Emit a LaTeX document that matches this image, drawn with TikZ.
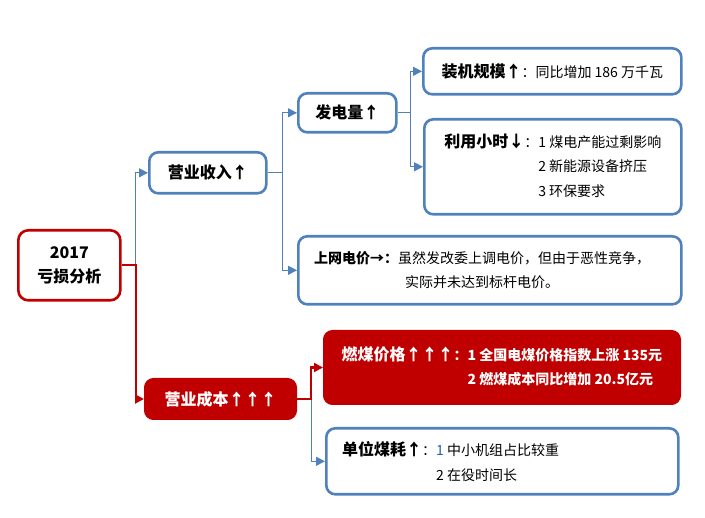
\documentclass[tikz,border=0pt]{standalone}
\usepackage{fontspec}
\setmainfont{Noto Sans CJK SC}
\usetikzlibrary{arrows.meta}
\definecolor{bblue}{HTML}{4F81BD}
\definecolor{rred}{HTML}{C00000}
\definecolor{numblue}{HTML}{1F5FB0}
\newcommand\mylab[1]{{\fontsize{16pt}{24.5pt}\selectfont\bfseries #1}}
\begin{document}
\begin{tikzpicture}[x=1pt,y=-1pt,
  base/.style={font=\fontsize{14pt}{24.5pt}\selectfont, inner sep=0pt, anchor=north west},
  bbox/.style={base, draw=bblue, line width=2.6pt, rounded corners=9pt, fill=white},
  rootbox/.style={base, draw=rred, line width=2.6pt, rounded corners=10pt, fill=white, align=center},
  rbox/.style={base, draw=rred, fill=rred, line width=1pt, rounded corners=9pt, text=white},
  txt/.style={font=\fontsize{14pt}{24.5pt}\selectfont, inner sep=0pt},
  bline/.style={draw=bblue, line width=1pt, -{Triangle[length=9pt,width=9pt]}},
  rline/.style={draw=rred, line width=2.2pt, -{Triangle[length=9pt,width=9pt]}}]
\useasboundingbox (0,0) rectangle (705,518);

% boxes
\node[rootbox, minimum width=102pt, minimum height=70pt] (root) at (17,229)
  {\mylab{2017}\\\mylab{亏损分析}};
\node[bbox, minimum width=117pt, minimum height=41pt] (inc) at (148,151) {\mylab{营业收入↑}};
\node[rbox, minimum width=152pt, minimum height=41pt] (cost) at (144,378) {\mylab{营业成本↑↑↑}};
\node[bbox, minimum width=98pt, minimum height=39pt] (gen) at (297,92) {\mylab{发电量↑}};
\node[bbox, minimum width=258pt, minimum height=46pt] (zj) at (422,47)
  {\mylab{装机规模↑}：同比增加 186 万千瓦};
\node[bbox, minimum width=257pt, minimum height=95pt] (ly) at (423,118)
  {\begin{tabular}{@{}l@{}l@{}}\mylab{利用小时↓}：&1 煤电产能过剩影响\\ &2 新能源设备挤压\\ &3 环保要求\end{tabular}};
\node[bbox, minimum width=383pt, minimum height=68pt] (price) at (297,235) {};
\node[txt, align=center] (pricetxt) at (482,270)
  {\textbf{上网电价→：}虽然发改委上调电价，但由于恶性竞争，\\实际并未达到标杆电价。};
\node[rbox, minimum width=357pt, minimum height=74pt] (coal) at (323,330)
  {\bfseries\begin{tabular}{@{}l@{}l@{}}\mylab{燃煤价格↑↑↑}：&1 全国电煤价格指数上涨 135元\\ &2 燃煤成本同比增加 20.5亿元\end{tabular}};
\node[bbox, minimum width=352pt, minimum height=66pt] (unit) at (325,427) {};
\node[txt, anchor=west] (unittxt) at (342,463)
  {\begin{tabular}{@{}l@{}l@{}}\mylab{单位煤耗↑}：&{\color{numblue}1} 中小机组占比较重\\ &2 在役时间长\end{tabular}};

% connectors
\coordinate (j1) at ([xshift=14pt]root.east);
\coordinate (j2) at ([xshift=15pt]inc.east);
\coordinate (j3) at ([xshift=13pt]gen.east);
\coordinate (j4) at ([xshift=14pt]cost.east);
\draw[bline] (j1) |- (inc.west);
\draw[rline] (root.east) -- (j1) |- (cost.west);
\draw[bline] (inc.east) -- (j2) |- (gen.west);
\draw[bline] (j2) |- (price.west);
\draw[bline] (gen.east) -- (j3) |- (zj.west);
\draw[bline] (j3) |- (ly.west);
\draw[bline] (j4) |- (unit.west);
\draw[rline] (cost.east) -- (j4) |- (coal.west);
\end{tikzpicture}
\end{document}
